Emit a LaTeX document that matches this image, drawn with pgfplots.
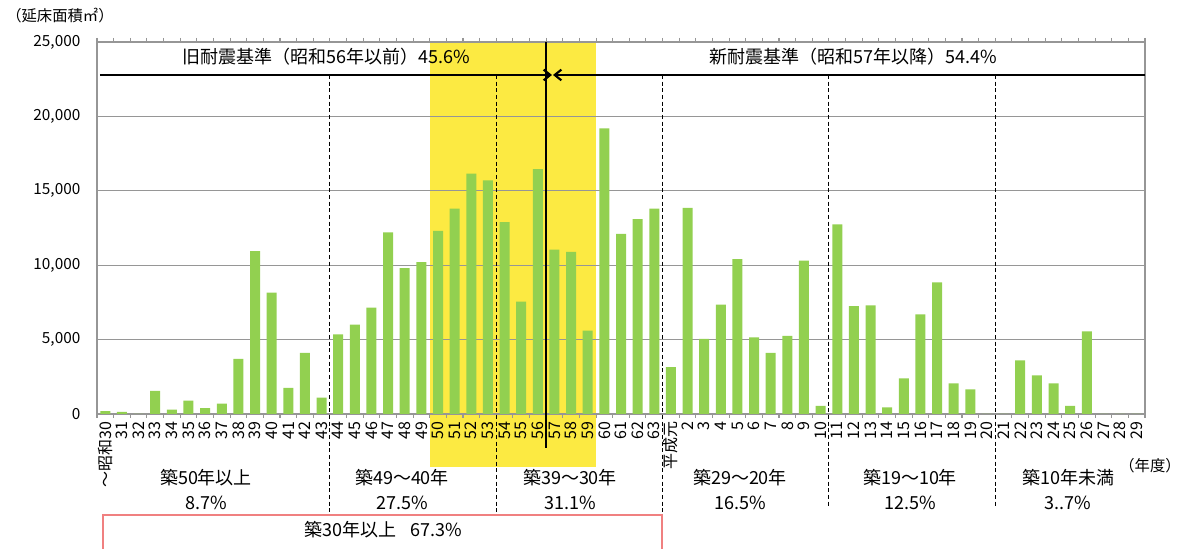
\documentclass[border=0pt]{standalone}
\usepackage{fontspec}
\setmainfont{Noto Sans CJK JP}
\usepackage{pgfplots}
\pgfplotsset{compat=1.18}
\usetikzlibrary{arrows.meta}
\definecolor{barGreen}{RGB}{146,208,80}
\definecolor{hiYellow}{RGB}{252,234,66}
\definecolor{gridGray}{RGB}{150,150,150}
\definecolor{boxPink}{RGB}{240,128,128}
\newcommand{\fs}[1]{\fontsize{#1}{#1}\selectfont}

\begin{document}
\begin{tikzpicture}
\begin{axis}[
  set layers,
  scale only axis,
  width=786pt, height=279pt,
  clip=false,
  xmin=-0.5, xmax=62.5,
  ymin=0, ymax=25000,
  axis line style={gridGray, line width=0.9pt},
  ybar, bar width=7.5pt,
  xtick={0,...,62},
  xticklabels={〜昭和30,31,32,33,34,35,36,37,38,39,40,41,42,43,44,45,46,47,48,49,50,51,52,53,54,55,56,57,58,59,60,61,62,63,平成元,2,3,4,5,6,7,8,9,10,11,12,13,14,15,16,17,18,19,20,21,22,23,24,25,26,27,28,29},
  xticklabel style={rotate=90, anchor=east, font=\fs{12}, inner sep=1pt},
  major x tick style={draw=none},
  minor xtick={-0.5,0.5,...,62.5},
  minor x tick style={gridGray, line width=0.8pt},
  minor tick length=3pt,
  ytick={0,5000,...,25000},
  ytick style={draw=none},
  ymajorgrids,
  grid style={gridGray, line width=0.9pt},
  scaled y ticks=false,
  yticklabel style={font=\fs{11.5}, xshift=-9pt},
  /pgf/number format/1000 sep={,},
  /pgf/number format/assume math mode=true,
]
\begin{pgfonlayer}{axis background}
\fill[hiYellow] (axis cs:19.5,-3560) rectangle (axis cs:29.5,25000);
\end{pgfonlayer}
\addplot[fill=barGreen, draw=none] coordinates {
  (0,200) (1,150) (2,0) (3,1550) (4,300) (5,900) (6,400) (7,700) (8,3700) (9,10950)
  (10,8150) (11,1750) (12,4100) (13,1100) (14,5350) (15,6000) (16,7150) (17,12200) (18,9800) (19,10200)
  (20,12300) (21,13800) (22,16150) (23,15700) (24,12900) (25,7550) (26,16450) (27,11050) (28,10900) (29,5600)
  (30,19200) (31,12100) (32,13100) (33,13800) (34,3150) (35,13850) (36,5050) (37,7350) (38,10400) (39,5150)
  (40,4100) (41,5250) (42,10300) (43,550) (44,12750) (45,7250) (46,7300) (47,450) (48,2400) (49,6700)
  (50,8850) (51,2050) (52,1650) (53,0) (54,0) (55,3600) (56,2600) (57,2050) (58,550) (59,5550)
  (60,0) (61,0) (62,0)
};
\end{axis}

% annotations, in pixel coordinates of the 1181x549 picture
\begin{scope}[x=0.75pt, y=-0.75pt, xshift=-72.75pt, yshift=310.5pt]
  \foreach \xx/\yb in {329.9/515, 496.3/515, 662.6/515, 828.9/508, 995.3/508}
    \draw[densely dashed, line width=0.8pt] (\xx,75) -- (\xx,\yb);
  \draw[line width=1.6pt] (546.1,42) -- (546.1,448);
  \draw[line width=1.6pt, -{Straight Barb[length=5pt, width=8pt]}] (100,75) -- (552,75);
  \draw[line width=1.6pt, -{Straight Barb[length=5pt, width=8pt]}] (1145,75) -- (553,75);
  \node[font=\fs{13.5}] at (326,57) {旧耐震基準（昭和56年以前）45.6\%};
  \node[font=\fs{13.5}] at (853,57) {新耐震基準（昭和57年以降）54.4\%};
  \node[font=\fs{11.5}, anchor=west, inner sep=0pt] at (6,16) {（延床面積㎡）};
  \node[font=\fs{11.5}, inner sep=0pt] at (1150,466) {（年度）};
  \foreach \cx/\ta/\tb in {206/築50年以上/8.7\%, 402/築49～40年/27.5\%, 570/築39～30年/31.1\%,
                           740/築29～20年/16.5\%, 910/築19～10年/12.5\%, 1068/築10年未満/3..7\%} {
    \node[font=\fs{13.5}, inner sep=0pt] at (\cx,478) {\ta};
    \node[font=\fs{13.5}, inner sep=0pt] at (\cx,503) {\tb};
  }
  \draw[boxPink, line width=1.4pt, fill=white] (103,515) rectangle (662,560);
  \node[font=\fs{13.5}, inner sep=0pt] at (383,530) {築30年以上\hspace{0.8em}67.3\%};
  \pgfresetboundingbox
  \path[use as bounding box] (0,0) rectangle (1181,549);
\end{scope}
\end{tikzpicture}
\end{document}
